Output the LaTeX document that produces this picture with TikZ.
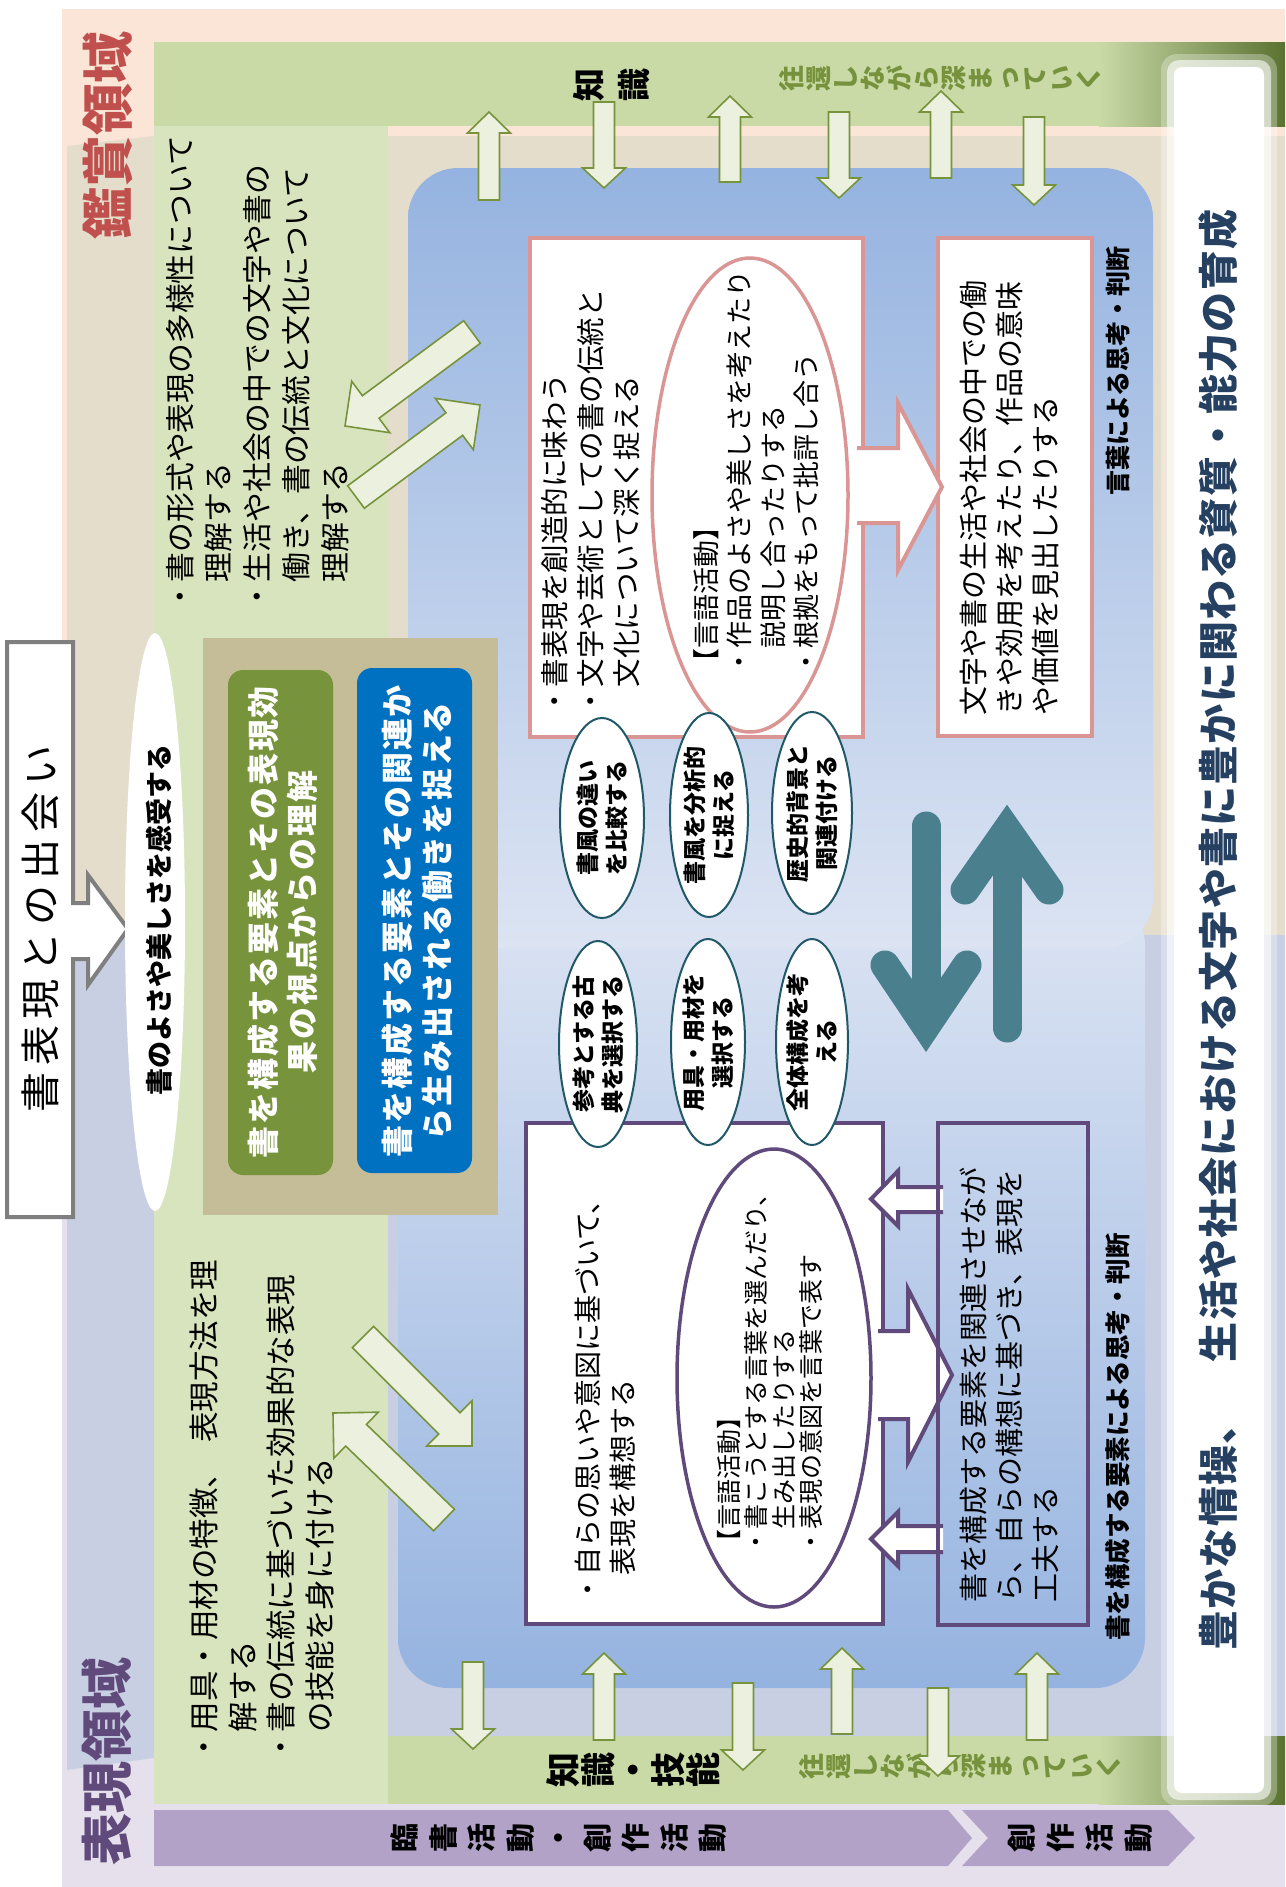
\documentclass[tikz,border=0pt]{standalone}
\usepackage{fontspec}
\setmainfont{Noto Sans CJK JP}
\usetikzlibrary{calc}
\definecolor{peach}{HTML}{FBE5D6}
\definecolor{lavbg}{HTML}{E6E0EC}
\definecolor{beige}{HTML}{E5DDCB}
\definecolor{bluish}{HTML}{C9CFE3}
\definecolor{gcol}{HTML}{D8E4BD}
\definecolor{gband}{HTML}{C9DAA7}
\definecolor{gdark}{HTML}{5A7230}
\definecolor{purpband}{HTML}{B3A2C7}
\definecolor{blueA}{HTML}{95B3E0}
\definecolor{blueB}{HTML}{DCE4F3}
\definecolor{arrfill}{HTML}{EBF1DE}
\definecolor{arrline}{HTML}{77933C}
\definecolor{pinkline}{HTML}{D99694}
\definecolor{purpline}{HTML}{604A7B}
\definecolor{tealline}{HTML}{215968}
\definecolor{tealarr}{HTML}{4A7F8D}
\definecolor{tanbox}{HTML}{C4BD97}
\definecolor{gbox}{HTML}{77933C}
\definecolor{bbox}{HTML}{0070C0}
\definecolor{kanred}{HTML}{C0504D}
\definecolor{hyopurp}{HTML}{604A7B}
\definecolor{navy}{HTML}{254061}
\definecolor{olive}{HTML}{76923C}
\definecolor{grayline}{HTML}{7F7F7F}
\newcommand{\fs}[2]{\fontsize{#1}{#2}\selectfont}
\newcommand{\blockarr}[6]{%
  \coordinate (bt) at (#1);
  \coordinate (bp) at (#2);
  \coordinate (bh) at ($(bp)!#5!(bt)$);
  \filldraw[#6] ($(bt)!#3!90:(bp)$) -- ($(bh)!#3!90:(bp)$) -- ($(bh)!#4!90:(bp)$) -- (bp) -- ($(bh)!#4!-90:(bp)$) -- ($(bh)!#3!-90:(bp)$) -- ($(bt)!#3!-90:(bp)$) -- cycle;
}
\tikzset{
  vt/.style={rotate=90, inner sep=0pt, align=left, anchor=north west},
  vc/.style={rotate=90, inner sep=0pt, align=center},
  tate/.style={rotate=90, inner sep=0pt, align=center},
  garrow/.style={fill=arrfill, draw=arrline, line width=1.6pt, line join=miter},
  oval/.style={fill=white, draw=tealline, line width=2pt},
  tarr/.style={draw=tealarr, line width=29pt, line cap=round, line join=miter},
}
\begin{document}
\begin{tikzpicture}[x=1pt, y=-1pt]
\useasboundingbox (0,0) rectangle (1285,1887);
\fill[white] (0,0) rectangle (1285,1887);
% outer background
\fill[peach] (62,9) rectangle (1285,935);
\fill[lavbg] (62,935) rectangle (1285,1887);
% inner panel
\fill[beige] (67,146) -- (154,136) -- (1285,136) -- (1285,935) -- (67,935) -- cycle;
\fill[bluish] (67,935) -- (1285,935) -- (1285,1760) -- (154,1758) -- (67,1770) -- cycle;
% green column and bands
\fill[gcol] (154,42) rectangle (388,1804);
\fill[gband] (154,42) rectangle (1100,126);
\shade[left color=gband, right color=gdark] (1099,42) rectangle (1285,126);
\fill[gband] (388,1736) rectangle (1100,1804);
\fill[gcol] (154,1736) rectangle (388,1804);
\shade[left color=gband, right color=gdark] (1099,1736) rectangle (1285,1804);
% purple chevrons
\fill[purpband] (154,1810) -- (948,1810) -- (972,1838) -- (948,1866) -- (154,1866) -- cycle;
\fill[purpband] (962,1810) -- (1168,1810) -- (1195,1838) -- (1168,1866) -- (962,1866) -- (988,1838) -- cycle;
% blue panels
\shade[top color=blueB, bottom color=blueA, rounded corners=50pt] (398,895) rectangle (1145,1688);
\shade[top color=blueA, bottom color=blueB, rounded corners=50pt] (408,168) rectangle (1153,948);
% right band
\fill[white, opacity=0.3, rounded corners=16pt] (1161,54) rectangle (1277,1806);
\fill[white, opacity=0.6, rounded corners=12pt] (1167,60) rectangle (1271,1800);
\fill[white, rounded corners=8pt] (1174,67) rectangle (1264,1793);
\node[vc, text=navy, font={\bfseries\fs{40}{40}\addfontfeature{LetterSpace=3}}] (band) at (1218,930) {豊かな情操、　生活や社会における文字や書に豊かに関わる資質・能力の育成};
% domain titles
\node[vc, text=kanred, font=\bfseries\fs{52}{52}] (kan) at (108,135) {鑑賞領域};
\node[vc, text=hyopurp, font=\bfseries\fs{52}{52}] (hyo) at (107,1761) {表現領域};
% band labels
\node[tate, font=\bfseries\fs{33}{45}] (chishiki) at (612,85) {知\\識};
\node[tate, text=olive, font=\bfseries\fs{26}{27}] (ou1) at (940,78) {往\\還\\し\\な\\が\\ら\\深\\ま\\っ\\て\\い\\く};
\node[tate, font=\bfseries\fs{35}{35}] (chigi) at (633,1770) {知\\識\\・\\技\\能};
\node[tate, text=olive, font=\bfseries\fs{26}{27}] (ou2) at (960,1766) {往\\還\\し\\な\\が\\ら\\深\\ま\\っ\\て\\い\\く};
\node[tate, font=\bfseries\fs{29}{38.5}] (rin) at (559,1838) {臨\\書\\活\\動\\・\\創\\作\\活\\動};
\node[tate, font=\bfseries\fs{29}{39}] (sosaku) at (1080,1838) {創\\作\\活\\動};
% green column texts
\node[vt, font=\fs{29.8}{38.7}] (kantext) at (166,612) {・書の形式や表現の多様性について\\\hphantom{・}理解する\\・生活や社会の中での文字や書の\\\hphantom{・}働き、書の伝統と文化について\\\hphantom{・}理解する};
\node[vt, font=\fs{30.5}{38.5}] (hyotext) at (190,1763) {・用具・用材の特徴、\hspace{0.5em}表現方法を理\\\hphantom{・}解する\\・書の伝統に基づいた効果的な表現\\\hphantom{・}の技能を身に付ける};
% encounter box
\filldraw[fill=white, draw=grayline, line width=4pt] (7,642) -- (73,642) -- (73,903) -- (88,903) -- (88,875) -- (128,929) -- (88,985) -- (88,959) -- (73,959) -- (73,1217) -- (7,1217) -- cycle;
\node[vc, font={\fs{40}{40}\addfontfeature{LetterSpace=17}}] (deai) at (40,929) {書表現との出会い};
\fill[white] (155,922) ellipse [x radius=30, y radius=289];
\node[vc, font=\bfseries\fs{27}{27}] (kanju) at (159,920) {書のよさや美しさを感受する};
% tan box
\fill[tanbox] (203,638) rectangle (498,1215);
\fill[gbox, rounded corners=15pt] (228,670) rectangle (333,1175);
\fill[bbox, rounded corners=15pt] (357,668) rectangle (472,1173);
\node[vc, text=white, font={\bfseries\fs{32}{39}\addfontfeature{LetterSpace=6}}] (gbt) at (283,922) {書を構成する要素とその表現効\\果の視点からの理解};
\node[vc, text=white, font={\bfseries\fs{32}{40}\addfontfeature{LetterSpace=6}}] (bbt) at (417,921) {書を構成する要素とその関連か\\ら生み出される働きを捉える};
% vertical green arrows
\blockarr{489,200}{489,112}{10.5pt}{21.5pt}{21pt}{garrow}
\blockarr{604,102}{604,188}{10.5pt}{21.5pt}{20pt}{garrow}
\blockarr{730,182}{730,96}{10.5pt}{21.5pt}{21pt}{garrow}
\blockarr{839,112}{839,198}{10.5pt}{21.5pt}{20pt}{garrow}
\blockarr{941,178}{941,91}{10.5pt}{21.5pt}{21pt}{garrow}
\blockarr{1034,117}{1034,205}{10.5pt}{21.5pt}{20pt}{garrow}
\blockarr{473,1662}{473,1749}{10.5pt}{21.5pt}{20pt}{garrow}
\blockarr{604,1740}{604,1653}{10.5pt}{21.5pt}{21pt}{garrow}
\blockarr{743,1683}{743,1770}{10.5pt}{21.5pt}{20pt}{garrow}
\blockarr{842,1734}{842,1648}{10.5pt}{21.5pt}{21pt}{garrow}
\blockarr{938,1688}{938,1776}{10.5pt}{21.5pt}{20pt}{garrow}
\blockarr{1037,1740}{1037,1653}{10.5pt}{21.5pt}{21pt}{garrow}
% diagonal arrows
\blockarr{472,332}{345,426}{14pt}{32pt}{32pt}{garrow}
\blockarr{356,497}{480,405}{14pt}{32pt}{32pt}{garrow}
\blockarr{363,1337}{472,1446}{15pt}{32pt}{32pt}{garrow}
\blockarr{444,1520}{333,1413}{15pt}{32pt}{32pt}{garrow}
% upper boxes
\filldraw[fill=white, draw=pinkline, line width=4.5pt] (530,238) rectangle (863,737);
\filldraw[fill=white, draw=pinkline, line width=4.5pt] (938,238) rectangle (1092,736);
\filldraw[fill=white, draw=pinkline, line width=4pt] (857,448) -- (898,448) -- (898,403) -- (942,487) -- (898,570) -- (898,523) -- (857,523);
\node[vt, font=\fs{28.5}{36}] (b1t) at (541,716) {・書表現を創造的に味わう\\・文字や芸術としての書の伝統と\\\hphantom{・}文化について深く捉える};
\draw[pinkline, fill=white, line width=3.5pt] (750,495) ellipse [x radius=98, y radius=237];
\node[vt, font=\fs{27}{33.5}] (e1t) at (693,676) {【言語活動】\\・作品のよさや美しさを考えたり\\\hphantom{・}説明し合ったりする\\・根拠をもって批評し合う};
\node[vt, font=\fs{29}{36}] (b2t) at (960,716) {文字や書の生活や社会の中での働\\きや効用を考えたり、作品の意味\\や価値を見出したりする};
\node[vc, font=\bfseries\fs{25}{25}] (lab1) at (1118,371) {言葉による思考・判断};
% lower boxes
\filldraw[fill=white, draw=purpline, line width=4.5pt] (526,1123) rectangle (883,1624);
\filldraw[fill=white, draw=purpline, line width=4pt] (878,1331) -- (908,1331) -- (908,1289) -- (952,1375) -- (908,1462) -- (908,1419) -- (878,1419);
\filldraw[fill=white, draw=purpline, line width=4pt] (943,1187) -- (898,1187) -- (898,1171) -- (871,1199) -- (898,1226) -- (898,1212) -- (943,1212);
\filldraw[fill=white, draw=purpline, line width=4pt] (943,1526) -- (898,1526) -- (898,1512) -- (871,1539) -- (898,1566) -- (898,1552) -- (943,1552);
\draw[purpline, line width=4.5pt] (938,1123) rectangle (1088,1625);
\node[vt, font=\fs{28}{35}] (b3t) at (575,1604) {・自らの思いや意図に基づいて、\\\hphantom{・}表現を構想する};
\draw[purpline, fill=white, line width=3.5pt] (774,1378) ellipse [x radius=97, y radius=229];
\node[vt, font=\fs{25}{27.5}] (e3t) at (717,1555) {【言語活動】\\・書こうとする言葉を選んだり、\\\hphantom{・}生み出したりする\\・表現の意図を言葉で表す};
\node[vt, font=\fs{29}{36}] (b4t) at (960,1603) {書を構成する要素を関連させなが\\ら、自らの構想に基づき、表現を\\工夫する};
\node[vc, font=\bfseries\fs{25.5}{25.5}] (lab2) at (1118,1437) {書を構成する要素による思考・判断};
% ovals
\draw[oval] (602,818) ellipse [x radius=42, y radius=100];
\draw[oval] (709,815) ellipse [x radius=39, y radius=102];
\draw[oval] (812,813) ellipse [x radius=40, y radius=101];
\draw[oval] (598,1044) ellipse [x radius=39, y radius=103];
\draw[oval] (708,1042) ellipse [x radius=37, y radius=103];
\draw[oval] (812,1042) ellipse [x radius=36, y radius=103];
\node[vc, font=\bfseries\fs{23}{29}] (o1) at (602,818) {書風の違い\\を比較する};
\node[vc, font=\bfseries\fs{23}{29}] (o2) at (709,815) {書風を分析的\\に捉える};
\node[vc, font=\bfseries\fs{23}{29}] (o3) at (812,813) {歴史的背景と\\関連付ける};
\node[vc, font=\bfseries\fs{23}{29}] (o4) at (598,1044) {参考とする古\\典を選択する};
\node[vc, font=\bfseries\fs{23}{29}] (o5) at (708,1042) {用具・用材を\\選択する};
\node[vc, font=\bfseries\fs{23}{29}] (o6) at (812,1042) {全体構成を考\\える};
% teal double arrows
\draw[tarr] (926,826) -- (926,1020);
\draw[tarr] (885,965) -- (926,1026) -- (967,965);
\draw[tarr] (1007,1028) -- (1007,836);
\draw[tarr] (965,890) -- (1007,830) -- (1049,890);
\end{tikzpicture}
\end{document}
